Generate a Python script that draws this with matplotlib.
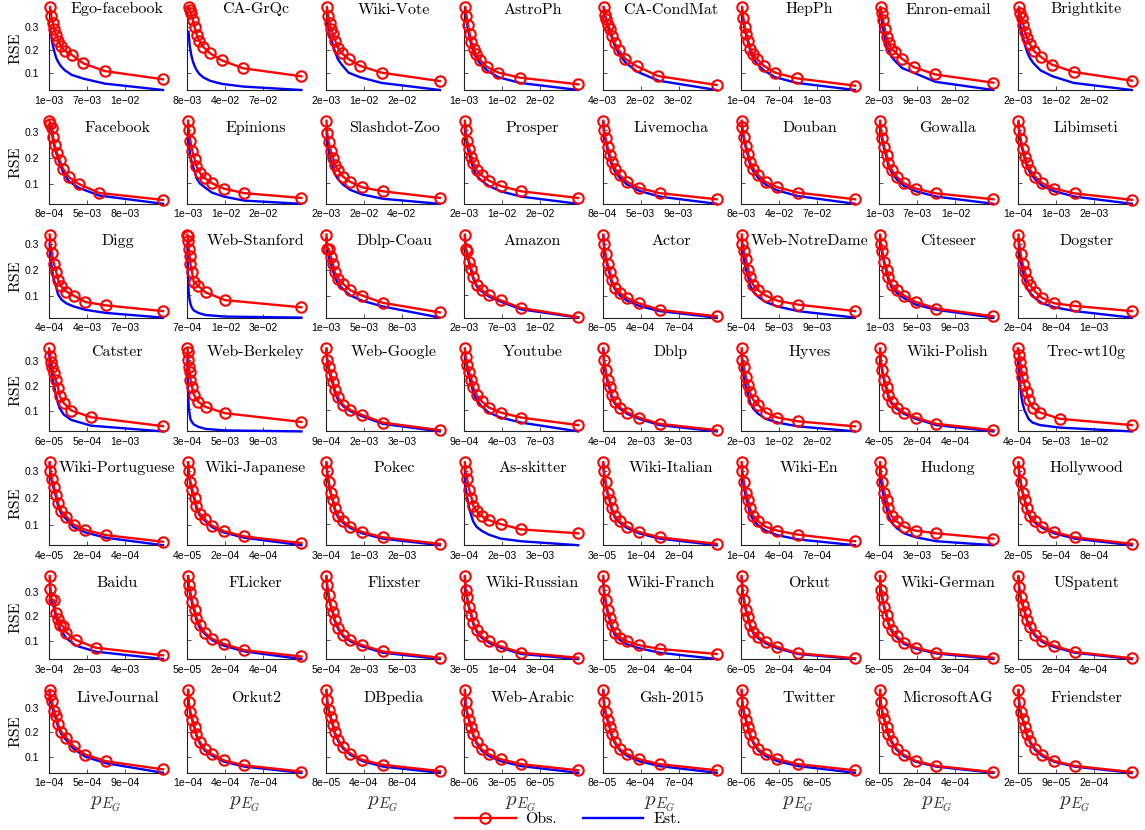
import matplotlib.pyplot as plt
from matplotlib.lines import Line2D

plt.rcParams['mathtext.fontset'] = 'cm'

# dataset names, row by row (8 per row)
names = [
    'Ego-facebook', 'CA-GrQc', 'Wiki-Vote', 'AstroPh', 'CA-CondMat', 'HepPh', 'Enron-email', 'Brightkite',
    'Facebook', 'Epinions', 'Slashdot-Zoo', 'Prosper', 'Livemocha', 'Douban', 'Gowalla', 'Libimseti',
    'Digg', 'Web-Stanford', 'Dblp-Coau', 'Amazon', 'Actor', 'Web-NotreDame', 'Citeseer', 'Dogster',
    'Catster', 'Web-Berkeley', 'Web-Google', 'Youtube', 'Dblp', 'Hyves', 'Wiki-Polish', 'Trec-wt10g',
    'Wiki-Portuguese', 'Wiki-Japanese', 'Pokec', 'As-skitter', 'Wiki-Italian', 'Wiki-En', 'Hudong', 'Hollywood',
    'Baidu', 'FLicker', 'Flixster', 'Wiki-Russian', 'Wiki-Franch', 'Orkut', 'Wiki-German', 'USpatent',
    'LiveJournal', 'Orkut2', 'DBpedia', 'Web-Arabic', 'Gsh-2015', 'Twitter', 'MicrosoftAG', 'Friendster',
]

# x tick labels of every panel (p_EG)
tick_labels = [
    ['1e-03', '7e-03', '1e-02'], ['8e-03', '4e-02', '7e-02'], ['2e-03', '1e-02', '2e-02'], ['1e-03', '1e-02', '2e-02'],
    ['4e-03', '2e-02', '3e-02'], ['1e-04', '7e-04', '1e-03'], ['2e-03', '9e-03', '2e-02'], ['2e-03', '1e-02', '2e-02'],
    ['8e-04', '5e-03', '8e-03'], ['1e-03', '1e-02', '2e-02'], ['2e-03', '2e-02', '4e-02'], ['2e-03', '1e-02', '2e-02'],
    ['8e-04', '5e-03', '9e-03'], ['8e-03', '4e-02', '7e-02'], ['1e-03', '7e-03', '1e-02'], ['1e-04', '1e-03', '2e-03'],
    ['4e-04', '4e-03', '7e-03'], ['7e-04', '1e-02', '3e-02'], ['1e-03', '5e-03', '8e-03'], ['2e-03', '7e-03', '1e-02'],
    ['8e-05', '4e-04', '7e-04'], ['5e-04', '5e-03', '9e-03'], ['1e-03', '5e-03', '9e-03'], ['2e-04', '8e-04', '1e-03'],
    ['6e-05', '5e-04', '1e-03'], ['3e-04', '5e-03', '9e-03'], ['9e-04', '2e-03', '3e-03'], ['9e-04', '4e-03', '7e-03'],
    ['4e-04', '2e-03', '3e-03'], ['2e-03', '1e-02', '2e-02'], ['4e-05', '2e-04', '4e-04'], ['4e-04', '5e-03', '1e-02'],
    ['4e-05', '2e-04', '4e-04'], ['4e-05', '2e-04', '4e-04'], ['3e-04', '1e-03', '2e-03'], ['3e-04', '2e-03', '3e-03'],
    ['3e-05', '1e-04', '2e-04'], ['1e-04', '4e-04', '7e-04'], ['4e-04', '3e-03', '5e-03'], ['2e-05', '5e-04', '8e-04'],
    ['3e-04', '2e-03', '4e-03'], ['5e-05', '2e-04', '4e-04'], ['5e-04', '2e-03', '5e-03'], ['3e-05', '1e-04', '3e-04'],
    ['3e-05', '2e-04', '4e-04'], ['6e-05', '2e-04', '4e-04'], ['5e-05', '2e-04', '3e-04'], ['5e-05', '2e-04', '4e-04'],
    ['1e-04', '5e-04', '9e-04'], ['1e-04', '4e-04', '7e-04'], ['8e-05', '4e-04', '8e-04'], ['8e-06', '3e-05', '6e-05'],
    ['8e-05', '4e-04', '7e-04'], ['8e-06', '4e-05', '6e-05'], ['6e-05', '2e-04', '4e-04'], ['2e-05', '9e-05', '2e-04'],
]

# sampled p_EG values, as a fraction of each panel's x range
grid_a = [0.01, 0.02, 0.033, 0.048, 0.063, 0.083, 0.105, 0.14, 0.2, 0.3, 0.49, 1.0]
grid_b = [0.0, 0.004, 0.008, 0.013, 0.02, 0.027, 0.04, 0.056, 0.097, 0.16, 0.33, 1.0]
grid_c = [0.0, 0.012, 0.02, 0.03, 0.04, 0.058, 0.079, 0.094, 0.129, 0.196, 0.37, 1.0]
grid_d = [0.004, 0.012, 0.026, 0.035, 0.05, 0.07, 0.094, 0.123, 0.175, 0.26, 0.44, 1.0]
grid_e = [0.006, 0.012, 0.02, 0.044, 0.058, 0.079, 0.1, 0.123, 0.152, 0.234, 0.41, 1.0]
grid_f = [0.006, 0.012, 0.026, 0.044, 0.064, 0.079, 0.108, 0.152, 0.216, 0.32, 0.5, 1.0]
grids = {'a': grid_a, 'b': grid_b, 'c': grid_c, 'd': grid_d, 'e': grid_e, 'f': grid_f}
grid_of = ['a'] * 8 + ['f'] * 48
grid_of[17] = grid_of[25] = 'b'
grid_of[24] = grid_of[31] = 'c'
grid_of[8] = 'd'
grid_of[40] = 'e'

obs = [
    [0.388, 0.35, 0.318, 0.29, 0.265, 0.24, 0.215, 0.195, 0.178, 0.141, 0.107, 0.071],
    [0.388, 0.375, 0.36, 0.33, 0.3, 0.265, 0.24, 0.213, 0.185, 0.155, 0.12, 0.085],
    [0.388, 0.35, 0.318, 0.29, 0.27, 0.24, 0.21, 0.185, 0.16, 0.13, 0.1, 0.063],
    [0.388, 0.35, 0.31, 0.27, 0.235, 0.205, 0.18, 0.155, 0.125, 0.1, 0.078, 0.049],
    [0.388, 0.355, 0.335, 0.31, 0.29, 0.26, 0.23, 0.2, 0.16, 0.128, 0.085, 0.046],
    [0.388, 0.34, 0.3, 0.27, 0.24, 0.205, 0.18, 0.16, 0.13, 0.1, 0.075, 0.043],
    [0.388, 0.36, 0.33, 0.29, 0.255, 0.23, 0.205, 0.19, 0.16, 0.125, 0.092, 0.056],
    [0.388, 0.36, 0.34, 0.31, 0.28, 0.25, 0.225, 0.195, 0.17, 0.135, 0.103, 0.065],

    [0.344, 0.33, 0.318, 0.282, 0.249, 0.219, 0.191, 0.158, 0.126, 0.1, 0.065, 0.038],
    [0.335, 0.3, 0.26, 0.22, 0.19, 0.165, 0.14, 0.12, 0.1, 0.08, 0.063, 0.045],
    [0.335, 0.29, 0.255, 0.22, 0.195, 0.17, 0.15, 0.125, 0.105, 0.085, 0.07, 0.045],
    [0.335, 0.3, 0.26, 0.23, 0.2, 0.175, 0.15, 0.13, 0.11, 0.09, 0.07, 0.045],
    [0.335, 0.3, 0.27, 0.235, 0.205, 0.18, 0.155, 0.13, 0.105, 0.083, 0.063, 0.04],
    [0.335, 0.31, 0.275, 0.24, 0.21, 0.18, 0.155, 0.13, 0.105, 0.085, 0.065, 0.04],
    [0.335, 0.3, 0.27, 0.235, 0.205, 0.175, 0.15, 0.125, 0.1, 0.08, 0.062, 0.04],
    [0.335, 0.3, 0.265, 0.23, 0.2, 0.175, 0.15, 0.125, 0.1, 0.08, 0.062, 0.038],

    [0.335, 0.3, 0.265, 0.22, 0.19, 0.16, 0.135, 0.115, 0.1, 0.075, 0.062, 0.04],
    [0.335, 0.33, 0.31, 0.28, 0.25, 0.22, 0.19, 0.15, 0.135, 0.11, 0.08, 0.052],
    [0.335, 0.28, 0.28, 0.25, 0.22, 0.19, 0.165, 0.145, 0.12, 0.1, 0.072, 0.035],
    [0.335, 0.28, 0.27, 0.23, 0.2, 0.17, 0.14, 0.12, 0.1, 0.08, 0.05, 0.015],
    [0.335, 0.3, 0.26, 0.22, 0.19, 0.16, 0.13, 0.11, 0.09, 0.07, 0.045, 0.02],
    [0.335, 0.3, 0.27, 0.24, 0.2, 0.17, 0.14, 0.12, 0.1, 0.08, 0.065, 0.04],
    [0.335, 0.3, 0.27, 0.23, 0.2, 0.17, 0.14, 0.12, 0.1, 0.075, 0.05, 0.02],
    [0.335, 0.3, 0.26, 0.22, 0.19, 0.16, 0.14, 0.115, 0.09, 0.07, 0.06, 0.04],

    [0.351, 0.32, 0.296, 0.275, 0.252, 0.225, 0.193, 0.159, 0.131, 0.101, 0.074, 0.038],
    [0.345, 0.33, 0.3, 0.27, 0.25, 0.22, 0.19, 0.16, 0.13, 0.11, 0.085, 0.05],
    [0.345, 0.3, 0.27, 0.24, 0.21, 0.18, 0.15, 0.12, 0.1, 0.08, 0.05, 0.02],
    [0.345, 0.31, 0.28, 0.25, 0.22, 0.19, 0.16, 0.135, 0.11, 0.09, 0.07, 0.04],
    [0.345, 0.3, 0.26, 0.22, 0.19, 0.16, 0.13, 0.11, 0.09, 0.07, 0.045, 0.02],
    [0.345, 0.3, 0.27, 0.23, 0.2, 0.17, 0.14, 0.12, 0.09, 0.07, 0.055, 0.035],
    [0.345, 0.3, 0.26, 0.22, 0.19, 0.16, 0.13, 0.11, 0.09, 0.07, 0.045, 0.02],
    [0.345, 0.32, 0.29, 0.26, 0.23, 0.2, 0.17, 0.14, 0.11, 0.09, 0.065, 0.04],

    [0.335, 0.3, 0.27, 0.24, 0.21, 0.18, 0.15, 0.13, 0.1, 0.08, 0.06, 0.035],
    [0.335, 0.3, 0.26, 0.23, 0.2, 0.17, 0.14, 0.12, 0.095, 0.075, 0.055, 0.03],
    [0.335, 0.3, 0.26, 0.22, 0.19, 0.16, 0.13, 0.11, 0.09, 0.07, 0.05, 0.025],
    [0.335, 0.3, 0.27, 0.23, 0.2, 0.17, 0.15, 0.13, 0.115, 0.1, 0.08, 0.065],
    [0.335, 0.3, 0.26, 0.22, 0.19, 0.16, 0.13, 0.11, 0.09, 0.07, 0.05, 0.025],
    [0.335, 0.3, 0.26, 0.22, 0.19, 0.16, 0.13, 0.11, 0.09, 0.075, 0.06, 0.035],
    [0.335, 0.3, 0.26, 0.22, 0.19, 0.16, 0.13, 0.11, 0.09, 0.075, 0.065, 0.045],
    [0.335, 0.3, 0.26, 0.22, 0.19, 0.16, 0.13, 0.11, 0.09, 0.07, 0.05, 0.025],

    [0.364, 0.311, 0.269, 0.265, 0.214, 0.189, 0.165, 0.158, 0.133, 0.103, 0.071, 0.04],
    [0.355, 0.32, 0.29, 0.25, 0.22, 0.19, 0.16, 0.13, 0.105, 0.085, 0.06, 0.035],
    [0.355, 0.32, 0.28, 0.24, 0.21, 0.18, 0.15, 0.12, 0.1, 0.08, 0.055, 0.03],
    [0.355, 0.3, 0.27, 0.23, 0.2, 0.17, 0.14, 0.115, 0.095, 0.075, 0.05, 0.03],
    [0.355, 0.3, 0.26, 0.22, 0.19, 0.16, 0.13, 0.11, 0.095, 0.08, 0.065, 0.045],
    [0.355, 0.3, 0.26, 0.22, 0.19, 0.16, 0.13, 0.11, 0.09, 0.07, 0.045, 0.025],
    [0.355, 0.3, 0.27, 0.23, 0.2, 0.17, 0.14, 0.115, 0.09, 0.07, 0.05, 0.03],
    [0.355, 0.31, 0.27, 0.24, 0.21, 0.18, 0.15, 0.12, 0.095, 0.075, 0.05, 0.025],

    [0.373, 0.35, 0.327, 0.286, 0.265, 0.232, 0.201, 0.178, 0.143, 0.109, 0.082, 0.049],
    [0.37, 0.32, 0.28, 0.25, 0.22, 0.19, 0.16, 0.13, 0.11, 0.085, 0.065, 0.04],
    [0.37, 0.33, 0.29, 0.26, 0.23, 0.2, 0.17, 0.14, 0.115, 0.09, 0.07, 0.045],
    [0.37, 0.32, 0.28, 0.25, 0.22, 0.19, 0.16, 0.13, 0.11, 0.09, 0.07, 0.045],
    [0.37, 0.32, 0.28, 0.25, 0.22, 0.19, 0.16, 0.13, 0.11, 0.09, 0.07, 0.045],
    [0.37, 0.32, 0.28, 0.25, 0.22, 0.19, 0.16, 0.13, 0.11, 0.09, 0.07, 0.045],
    [0.37, 0.32, 0.28, 0.25, 0.22, 0.19, 0.16, 0.13, 0.105, 0.08, 0.06, 0.035],
    [0.37, 0.32, 0.28, 0.25, 0.22, 0.19, 0.16, 0.13, 0.105, 0.08, 0.06, 0.035],
]

est = [
    [0.30, 0.26, 0.22, 0.19, 0.165, 0.145, 0.128, 0.11, 0.09, 0.074, 0.052, 0.024],
    [0.28, 0.22, 0.18, 0.15, 0.13, 0.11, 0.095, 0.08, 0.065, 0.052, 0.04, 0.025],
    [0.33, 0.3, 0.27, 0.245, 0.22, 0.19, 0.16, 0.135, 0.1, 0.08, 0.055, 0.024],
    [0.36, 0.33, 0.29, 0.255, 0.22, 0.19, 0.165, 0.14, 0.11, 0.08, 0.055, 0.024],
    [0.385, 0.35, 0.33, 0.3, 0.28, 0.25, 0.22, 0.185, 0.145, 0.105, 0.065, 0.024],
    [0.37, 0.33, 0.29, 0.26, 0.23, 0.195, 0.165, 0.14, 0.11, 0.08, 0.055, 0.024],
    [0.37, 0.33, 0.29, 0.25, 0.22, 0.195, 0.17, 0.15, 0.12, 0.1, 0.06, 0.024],
    [0.35, 0.31, 0.28, 0.25, 0.22, 0.19, 0.165, 0.14, 0.11, 0.085, 0.055, 0.024],

    [0.33, 0.32, 0.3, 0.27, 0.24, 0.21, 0.18, 0.145, 0.11, 0.085, 0.055, 0.023],
    [0.3, 0.25, 0.2, 0.17, 0.145, 0.12, 0.1, 0.085, 0.065, 0.05, 0.035, 0.023],
    [0.31, 0.26, 0.22, 0.185, 0.16, 0.135, 0.115, 0.095, 0.075, 0.058, 0.042, 0.023],
    [0.32, 0.28, 0.24, 0.21, 0.18, 0.155, 0.13, 0.11, 0.09, 0.07, 0.05, 0.023],
    [0.33, 0.29, 0.26, 0.225, 0.195, 0.17, 0.145, 0.12, 0.095, 0.072, 0.05, 0.023],
    [0.33, 0.3, 0.265, 0.23, 0.2, 0.17, 0.145, 0.12, 0.095, 0.073, 0.052, 0.023],
    [0.325, 0.29, 0.26, 0.225, 0.195, 0.165, 0.14, 0.115, 0.09, 0.07, 0.05, 0.023],
    [0.33, 0.29, 0.255, 0.22, 0.19, 0.165, 0.14, 0.115, 0.09, 0.07, 0.05, 0.023],

    [0.3, 0.25, 0.2, 0.16, 0.13, 0.105, 0.085, 0.07, 0.058, 0.045, 0.033, 0.015],
    [0.3, 0.2, 0.14, 0.1, 0.08, 0.065, 0.05, 0.04, 0.03, 0.022, 0.016, 0.012],
    [0.32, 0.28, 0.25, 0.22, 0.195, 0.17, 0.145, 0.125, 0.1, 0.08, 0.058, 0.015],
    [0.33, 0.28, 0.26, 0.22, 0.19, 0.165, 0.135, 0.115, 0.095, 0.075, 0.045, 0.013],
    [0.33, 0.29, 0.25, 0.21, 0.18, 0.15, 0.125, 0.1, 0.08, 0.06, 0.04, 0.015],
    [0.32, 0.28, 0.24, 0.2, 0.17, 0.14, 0.115, 0.095, 0.075, 0.058, 0.04, 0.015],
    [0.33, 0.29, 0.26, 0.22, 0.19, 0.16, 0.13, 0.11, 0.09, 0.065, 0.045, 0.015],
    [0.32, 0.28, 0.23, 0.19, 0.16, 0.13, 0.11, 0.09, 0.07, 0.055, 0.04, 0.015],

    [0.33, 0.3, 0.27, 0.24, 0.21, 0.17, 0.13, 0.11, 0.085, 0.063, 0.04, 0.017],
    [0.3, 0.2, 0.14, 0.1, 0.08, 0.06, 0.05, 0.04, 0.03, 0.022, 0.016, 0.012],
    [0.34, 0.295, 0.26, 0.23, 0.2, 0.17, 0.14, 0.115, 0.095, 0.075, 0.045, 0.015],
    [0.33, 0.3, 0.26, 0.23, 0.2, 0.17, 0.14, 0.115, 0.09, 0.07, 0.05, 0.015],
    [0.34, 0.29, 0.25, 0.21, 0.18, 0.15, 0.125, 0.105, 0.085, 0.065, 0.04, 0.015],
    [0.32, 0.27, 0.23, 0.19, 0.16, 0.13, 0.105, 0.085, 0.065, 0.05, 0.035, 0.015],
    [0.34, 0.29, 0.25, 0.21, 0.18, 0.15, 0.125, 0.105, 0.085, 0.065, 0.04, 0.015],
    [0.3, 0.25, 0.2, 0.16, 0.13, 0.1, 0.08, 0.065, 0.05, 0.04, 0.03, 0.015],

    [0.33, 0.29, 0.26, 0.23, 0.2, 0.17, 0.14, 0.12, 0.09, 0.07, 0.05, 0.022],
    [0.33, 0.29, 0.255, 0.22, 0.19, 0.16, 0.135, 0.115, 0.09, 0.07, 0.05, 0.022],
    [0.33, 0.29, 0.255, 0.215, 0.185, 0.155, 0.125, 0.105, 0.085, 0.065, 0.045, 0.02],
    [0.3, 0.24, 0.2, 0.16, 0.13, 0.11, 0.09, 0.075, 0.06, 0.045, 0.035, 0.02],
    [0.33, 0.29, 0.255, 0.215, 0.185, 0.155, 0.125, 0.105, 0.085, 0.065, 0.045, 0.02],
    [0.32, 0.28, 0.24, 0.2, 0.17, 0.14, 0.115, 0.095, 0.075, 0.058, 0.042, 0.02],
    [0.32, 0.27, 0.23, 0.19, 0.16, 0.13, 0.105, 0.085, 0.065, 0.05, 0.035, 0.02],
    [0.33, 0.29, 0.255, 0.215, 0.185, 0.155, 0.125, 0.105, 0.085, 0.065, 0.045, 0.02],

    [0.33, 0.3, 0.26, 0.235, 0.2, 0.17, 0.145, 0.13, 0.11, 0.08, 0.055, 0.025],
    [0.35, 0.31, 0.28, 0.24, 0.21, 0.18, 0.15, 0.125, 0.1, 0.078, 0.055, 0.025],
    [0.35, 0.31, 0.27, 0.235, 0.205, 0.175, 0.145, 0.115, 0.095, 0.075, 0.05, 0.025],
    [0.35, 0.295, 0.265, 0.225, 0.195, 0.165, 0.135, 0.11, 0.09, 0.07, 0.045, 0.025],
    [0.34, 0.29, 0.25, 0.21, 0.18, 0.15, 0.12, 0.1, 0.083, 0.068, 0.05, 0.025],
    [0.35, 0.295, 0.255, 0.215, 0.185, 0.155, 0.125, 0.105, 0.085, 0.065, 0.042, 0.022],
    [0.35, 0.295, 0.265, 0.225, 0.195, 0.165, 0.135, 0.11, 0.085, 0.066, 0.047, 0.025],
    [0.35, 0.305, 0.265, 0.235, 0.205, 0.175, 0.145, 0.115, 0.09, 0.07, 0.047, 0.022],

    [0.36, 0.335, 0.31, 0.275, 0.252, 0.222, 0.192, 0.168, 0.133, 0.1, 0.074, 0.035],
    [0.365, 0.315, 0.275, 0.245, 0.215, 0.185, 0.155, 0.125, 0.105, 0.08, 0.06, 0.035],
    [0.365, 0.325, 0.285, 0.255, 0.225, 0.195, 0.165, 0.135, 0.11, 0.085, 0.063, 0.038],
    [0.365, 0.315, 0.275, 0.245, 0.215, 0.185, 0.155, 0.125, 0.103, 0.082, 0.062, 0.035],
    [0.365, 0.315, 0.275, 0.245, 0.215, 0.185, 0.155, 0.125, 0.103, 0.082, 0.062, 0.035],
    [0.365, 0.315, 0.275, 0.245, 0.215, 0.185, 0.155, 0.125, 0.103, 0.082, 0.062, 0.035],
    [0.365, 0.315, 0.275, 0.245, 0.215, 0.185, 0.155, 0.125, 0.1, 0.077, 0.057, 0.032],
    [0.365, 0.315, 0.275, 0.245, 0.215, 0.185, 0.155, 0.125, 0.1, 0.077, 0.057, 0.032],
]

W, H = 1145, 830
ncols = 8
ax_w, ax_h = 114, 83
col_step, row_step = 138.4, 113.8
title_drop = [6.5, 11, 10, 8, 10, 11, 12]   # px from axes top to title baseline

tick_font = dict(family='Liberation Sans', size=7.5)
serif = 'cmr10'

fig = plt.figure(figsize=(W / 100, H / 100), dpi=100)

for k, name in enumerate(names):
    r, c = divmod(k, ncols)
    left = 49 + col_step * c
    bottom = 90 + row_step * r
    ax = fig.add_axes([left / W, 1 - bottom / H, ax_w / W, ax_h / H])

    x = grids[grid_of[k]]
    ax.plot(x, est[k], color='#0000ff', lw=1.7, clip_on=False, zorder=3)
    ax.plot(x, obs[k], color='#ff0000', lw=1.7, marker='o', ms=7.5,
            mfc='none', mew=1.5, clip_on=False, zorder=4)

    lo = min(min(obs[k]), min(est[k]))
    hi = max(max(obs[k]), max(est[k]))
    ax.set_xlim(0, 1)
    ax.set_ylim(lo, hi)

    ax.set_xticks([0, 1 / 3, 2 / 3])
    ax.set_xticklabels([t.replace('-', '\u2212') for t in tick_labels[k]], fontdict=tick_font)
    ax.set_yticks([0.1, 0.2, 0.3])
    if c == 0:
        ax.set_yticklabels(['0.1', '0.2', '0.3'], fontdict=tick_font)
        ax.text(-0.29, 0.5, 'RSE', rotation=90, ha='center', va='center',
                family=serif, fontsize=11.5, transform=ax.transAxes)
    else:
        ax.set_yticklabels([])
    ax.tick_params(direction='in', length=3, width=0.6, color='#333333', pad=4)
    ax.tick_params(axis='y', pad=7)

    for side in ('top', 'right'):
        ax.spines[side].set_visible(False)
    for side in ('left', 'bottom'):
        ax.spines[side].set_color('#222222')
        ax.spines[side].set_linewidth(0.8)

    ax.text(0.6, 1 - title_drop[r] / ax_h, name, ha='center', va='baseline',
            family=serif, fontsize=11.5, transform=ax.transAxes)

    if r == 6:
        ax.text(0.5, -0.37, r'$p_{E_G}$', ha='center', va='center', fontsize=15,
                color='#333333', transform=ax.transAxes)

handles = [
    Line2D([], [], color='#ff0000', lw=1.7, marker='o', ms=7.5, mfc='none', mew=1.5, label='Obs.'),
    Line2D([], [], color='#0000ff', lw=1.7, label='Est.'),
]
fig.legend(handles=handles, loc='center', bbox_to_anchor=(568 / W, 1 - 819 / H), ncol=2,
           frameon=False, handlelength=3.8, handletextpad=0.6, columnspacing=1.6,
           prop=dict(family=serif, size=11.5))

fig.savefig('out.png', dpi=100)
